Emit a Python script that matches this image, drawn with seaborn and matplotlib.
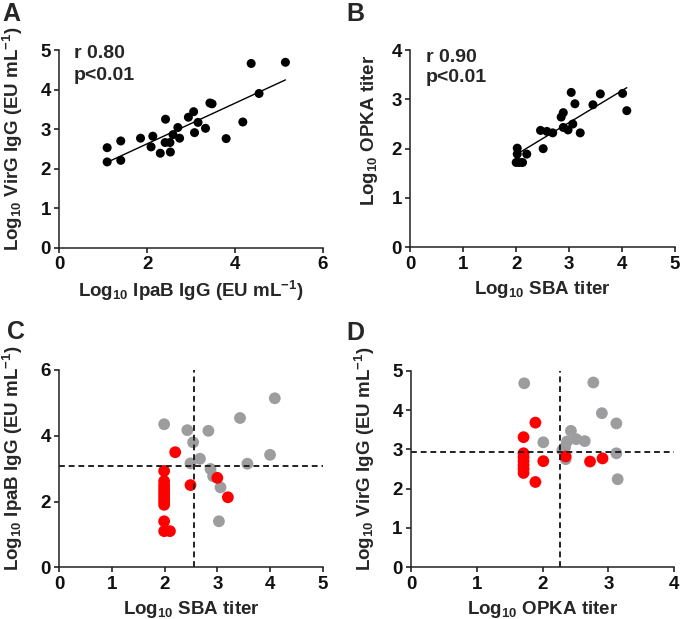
import numpy as np
import pandas as pd
import matplotlib
matplotlib.use("Agg")
import matplotlib.pyplot as plt
import seaborn as sns

# ---------------- Data ----------------
# Panel A: IpaB IgG vs VirG IgG
a_ipab = [1.09, 1.09, 1.40, 1.40, 1.85, 2.13, 2.09, 2.30, 2.42, 2.41, 2.52, 2.53, 2.59,
          2.70, 2.74, 2.94, 3.06, 3.08, 3.16, 3.33, 3.43, 3.48, 3.80, 4.18, 4.37, 4.55, 5.15]
a_virg = [2.53, 2.17, 2.70, 2.21, 2.77, 2.82, 2.55, 2.39, 3.25, 2.66, 2.66, 2.42, 2.86,
          3.04, 2.77, 3.30, 3.44, 2.91, 3.17, 3.02, 3.66, 3.64, 2.76, 3.18, 4.66, 3.90, 4.69]

# Panel B: SBA titer vs OPKA titer
b_sba = [2.02, 2.02, 2.00, 2.06, 2.12, 2.20, 2.51, 2.46, 2.58, 2.69, 2.85, 2.89, 2.89,
         2.98, 3.07, 3.04, 3.11, 3.21, 3.45, 3.59, 4.01, 4.09]
b_opka = [2.01, 1.89, 1.72, 1.72, 1.72, 1.89, 2.00, 2.37, 2.35, 2.32, 2.64, 2.73, 2.43,
          2.38, 2.50, 3.14, 2.91, 2.32, 2.89, 3.11, 3.12, 2.77]

# Panel C: SBA titer vs IpaB IgG (grey = above a threshold, red = below both)
c_grey_sba = [1.99, 2.43, 2.83, 2.54, 2.67, 2.49, 2.87, 2.92, 3.06, 3.03, 3.43, 4.09, 4.00, 3.57]
c_grey_ipab = [4.35, 4.17, 4.15, 3.80, 3.30, 3.16, 2.99, 2.77, 2.43, 1.40, 4.54, 5.14, 3.42, 3.15]
c_red_sba = [2.20, 1.99, 1.99, 1.99, 1.99, 1.99, 1.99, 1.99, 1.99, 1.99, 1.99, 1.99, 2.10,
             2.49, 3.00, 3.20]
c_red_ipab = [3.50, 2.93, 2.62, 2.50, 2.40, 2.30, 2.20, 2.10, 2.00, 1.90, 1.40, 1.10, 1.10,
              2.50, 2.72, 2.13]
c_cut_sba = 2.55
c_cut_ipab = 3.07

# Panel D: OPKA titer vs VirG IgG
d_grey_opka = [1.72, 2.77, 2.90, 3.12, 2.01, 2.43, 2.51, 2.64, 2.37, 2.34, 2.30, 2.35, 3.12, 3.14]
d_grey_virg = [4.68, 4.70, 3.92, 3.66, 3.18, 3.47, 3.26, 3.21, 3.20, 3.05, 2.98, 2.75, 2.90, 2.24]
d_red_opka = [1.89, 1.71, 1.71, 1.71, 1.71, 1.71, 1.71, 1.71, 1.89, 2.01, 2.35, 2.72, 2.91]
d_red_virg = [3.68, 3.31, 2.90, 2.80, 2.70, 2.60, 2.50, 2.40, 2.17, 2.70, 2.82, 2.69, 2.77]
d_cut_opka = 2.26
d_cut_virg = 2.94

# ---------------- Style ----------------
sns.set_style("ticks")
plt.rcParams['font.family'] = ['Liberation Sans', 'DejaVu Sans']
plt.rcParams['font.weight'] = 'bold'
plt.rcParams['axes.labelweight'] = 'bold'
plt.rcParams['mathtext.fontset'] = 'custom'
for k in ['rm', 'it', 'bf', 'sf']:
    plt.rcParams['mathtext.' + k] = 'Liberation Sans:bold'
plt.rcParams['mathtext.default'] = 'rm'

RED = '#ff0000'
GREY = '#9d9d9f'
TICK_FS = 13.5
LABEL_FS = 13.5
ANNOT_FS = 14

fig = plt.figure(figsize=(6.8, 6.19), dpi=100)
axA = fig.add_axes([0.0872, 0.5998, 0.3874, 0.3194])
axB = fig.add_axes([0.6034, 0.6005, 0.3892, 0.3187])
axC = fig.add_axes([0.0872, 0.0835, 0.3874, 0.3188])
axD = fig.add_axes([0.6044, 0.0835, 0.3872, 0.3176])


def style(ax, xlim, ylim, xticks, yticks, xlabel, ylabel, ylab_x, ylab_y, xlab_y):
    ax.set_xlim(*xlim)
    ax.set_ylim(*ylim)
    ax.set_xticks(xticks)
    ax.set_yticks(yticks)
    ax.set_xticklabels([str(t) for t in xticks], fontsize=TICK_FS, fontweight='bold')
    ax.set_yticklabels([str(t) for t in yticks], fontsize=TICK_FS, fontweight='bold')
    for s in ['top', 'right']:
        ax.spines[s].set_visible(False)
    for s in ['left', 'bottom']:
        ax.spines[s].set_linewidth(1.1)
        ax.spines[s].set_color('#222222')
    ax.tick_params(direction='out', length=3.5, width=1.1, pad=2.5, colors='#111111')
    ax.set_xlabel(xlabel, fontsize=LABEL_FS, fontweight='bold')
    ax.set_ylabel(ylabel, fontsize=LABEL_FS, fontweight='bold')
    ax.xaxis.set_label_coords(0.5, xlab_y)
    ax.yaxis.set_label_coords(ylab_x, ylab_y)


# Panel A
dfA = pd.DataFrame({'x': a_ipab, 'y': a_virg})
sns.scatterplot(data=dfA, x='x', y='y', ax=axA, color='black', s=42, edgecolor='none',
                zorder=3, clip_on=False)
sns.regplot(data=dfA, x='x', y='y', ax=axA, scatter=False, ci=None, truncate=True,
            line_kws={'color': 'black', 'lw': 1.0})
style(axA, (0, 6), (0, 5), [0, 2, 4, 6], [0, 1, 2, 3, 4, 5],
      r'Log$_{10}$ IpaB IgG (EU mL$^{-1}$)', r'Log$_{10}$ VirG IgG (EU mL$^{-1}$)',
      -0.130, 0.55, -0.16)
axA.text(0.056, 0.96, 'r 0.80', transform=axA.transAxes, fontsize=ANNOT_FS,
         fontweight='bold', va='baseline', ha='left')
axA.text(0.056, 0.848, 'p<0.01', transform=axA.transAxes, fontsize=ANNOT_FS,
         fontweight='bold', va='baseline', ha='left')

# Panel B
dfB = pd.DataFrame({'x': b_sba, 'y': b_opka})
sns.scatterplot(data=dfB, x='x', y='y', ax=axB, color='black', s=42, edgecolor='none',
                zorder=3, clip_on=False)
sns.regplot(data=dfB, x='x', y='y', ax=axB, scatter=False, ci=None, truncate=True,
            line_kws={'color': 'black', 'lw': 1.0})
style(axB, (0, 5), (0, 4), [0, 1, 2, 3, 4, 5], [0, 1, 2, 3, 4],
      r'Log$_{10}$ SBA titer', r'Log$_{10}$ OPKA titer', -0.114, 0.595, -0.16)
axB.text(0.059, 0.94, 'r 0.90', transform=axB.transAxes, fontsize=ANNOT_FS,
         fontweight='bold', va='baseline', ha='left')
axB.text(0.059, 0.836, 'p<0.01', transform=axB.transAxes, fontsize=ANNOT_FS,
         fontweight='bold', va='baseline', ha='left')

# Panel C
dfCg = pd.DataFrame({'x': c_grey_sba, 'y': c_grey_ipab})
dfCr = pd.DataFrame({'x': c_red_sba, 'y': c_red_ipab})
sns.scatterplot(data=dfCg, x='x', y='y', ax=axC, color=GREY, s=72, edgecolor='none',
                zorder=2, clip_on=False)
sns.scatterplot(data=dfCr, x='x', y='y', ax=axC, color=RED, s=72, edgecolor='none',
                zorder=3, clip_on=False)
axC.axvline(c_cut_sba, color='#222222', lw=1.4, ls=(0, (3, 2)), zorder=4)
axC.axhline(c_cut_ipab, color='#222222', lw=1.4, ls=(0, (3, 2)), zorder=4)
style(axC, (0, 5), (0, 6), [0, 1, 2, 3, 4, 5], [0, 2, 4, 6],
      r'Log$_{10}$ SBA titer', r'Log$_{10}$ IpaB IgG (EU mL$^{-1}$)', -0.130, 0.552, -0.16)

# Panel D
dfDg = pd.DataFrame({'x': d_grey_opka, 'y': d_grey_virg})
dfDr = pd.DataFrame({'x': d_red_opka, 'y': d_red_virg})
sns.scatterplot(data=dfDg, x='x', y='y', ax=axD, color=GREY, s=72, edgecolor='none',
                zorder=2, clip_on=False)
sns.scatterplot(data=dfDr, x='x', y='y', ax=axD, color=RED, s=72, edgecolor='none',
                zorder=3, clip_on=False)
axD.axvline(d_cut_opka, color='#222222', lw=1.4, ls=(0, (3, 2)), zorder=4)
axD.axhline(d_cut_virg, color='#222222', lw=1.4, ls=(0, (3, 2)), zorder=4)
style(axD, (0, 4), (0, 5), [0, 1, 2, 3, 4], [0, 1, 2, 3, 4, 5],
      r'Log$_{10}$ OPKA titer', r'Log$_{10}$ VirG IgG (EU mL$^{-1}$)', -0.129, 0.555, -0.16)

# Panel letters
for letter, x, y in [('A', 0.004, 0.966), ('B', 0.510, 0.966),
                     ('C', 0.010, 0.452), ('D', 0.510, 0.450)]:
    fig.text(x, y, letter, fontsize=18, fontweight='bold', va='baseline', ha='left')

fig.savefig('out.png', dpi=100)
